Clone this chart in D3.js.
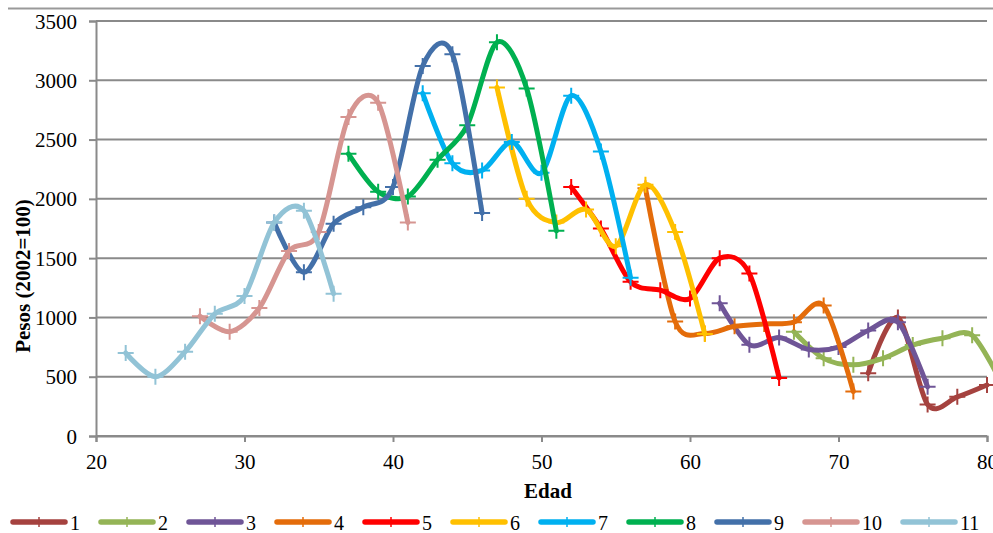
<!DOCTYPE html>
<html>
<head>
<meta charset="utf-8">
<script src="https://cdn.jsdelivr.net/npm/d3@7"></script>
<style>
  body { margin: 0; background: #fff; }
  svg { display: block; }
</style>
</head>
<body>
<svg id="chart" width="993" height="533"></svg>
<script>
// Ages (x) and weights (pesos, 2002=100) for each cohort series
const ages1 = [72, 74, 76, 78, 80];
const vals1 = [530, 1000, 265, 330, 430];
const ages2 = [67, 69, 71, 73, 75, 77, 79, 81];
const vals2 = [880, 655, 600, 655, 767, 824, 850, 440];
const ages3 = [62, 64, 66, 68, 70, 72, 74, 76];
const vals3 = [1120, 770, 830, 730, 750, 890, 960, 415];
const ages4 = [57, 59, 61, 63, 65, 67, 69, 71];
const vals4 = [2090, 965, 865, 925, 945, 960, 1100, 375];
const ages5 = [52, 54, 56, 58, 60, 62, 64, 66];
const vals5 = [2100, 1750, 1300, 1230, 1160, 1500, 1370, 490];
const ages6 = [47, 49, 51, 53, 55, 57, 59, 61];
const vals6 = [2940, 2000, 1800, 1910, 1600, 2120, 1720, 860];
const ages7 = [42, 44, 46, 48, 50, 52, 54, 56];
const vals7 = [2890, 2300, 2240, 2480, 2220, 2870, 2400, 1335];
const ages8 = [37, 39, 41, 43, 45, 47, 49, 51];
const vals8 = [2380, 2060, 2020, 2330, 2620, 3320, 2930, 1730];
const ages9 = [32, 34, 36, 38, 40, 42, 44, 46];
const vals9 = [1800, 1380, 1790, 1930, 2100, 3120, 3220, 1880];
const ages10 = [27, 29, 31, 33, 35, 37, 39, 41];
const vals10 = [1010, 880, 1080, 1560, 1720, 2690, 2810, 1800];
const ages11 = [22, 24, 26, 28, 30, 32, 34, 36];
const vals11 = [700, 500, 710, 1030, 1180, 1800, 1900, 1200];

const seriesNames = ["1", "2", "3", "4", "5", "6", "7", "8", "9", "10", "11"];
const seriesColors = ["#A5423F", "#94B456", "#6F5597", "#E46C0A", "#FF0000",
                      "#FFC000", "#00B0F0", "#00B050", "#4370A9", "#D69591", "#92C3D6"];
const xTicks = [20, 30, 40, 50, 60, 70, 80];
const yTicks = [0, 500, 1000, 1500, 2000, 2500, 3000, 3500];
const xTitle = "Edad";
const yTitle = "Pesos (2002=100)";

const allAges = [ages1, ages2, ages3, ages4, ages5, ages6, ages7, ages8, ages9, ages10, ages11];
const allVals = [vals1, vals2, vals3, vals4, vals5, vals6, vals7, vals8, vals9, vals10, vals11];
const series = seriesNames.map((name, i) => ({
  name, color: seriesColors[i],
  points: allAges[i].map((a, j) => ({ x: a, y: allVals[i][j] }))
}));

const FONT = '"Liberation Serif", "Times New Roman", serif';
const svg = d3.select("#chart");
const plotLeft = 96, plotRight = 987, plotTop = 21, plotBottom = 436;
const x = d3.scaleLinear().domain([20, 80]).range([plotLeft, plotRight]);
const y = d3.scaleLinear().domain([0, 3500]).range([plotBottom, plotTop]);
const gridColor = "#8a8a8a";

// outer frame edge
svg.append("line").attr("x1", 8).attr("x2", 993).attr("y1", 8.5).attr("y2", 8.5)
  .attr("stroke", "#999").attr("stroke-width", 2);

// horizontal gridlines
svg.append("g").selectAll("line").data(yTicks).join("line")
  .attr("x1", plotLeft).attr("x2", plotRight)
  .attr("y1", d => y(d)).attr("y2", d => y(d))
  .attr("stroke", gridColor).attr("stroke-width", 2);

// y axis
const yAxis = svg.append("g").attr("transform", `translate(${plotLeft},0)`)
  .call(d3.axisLeft(y).tickValues(yTicks).tickSize(7).tickPadding(12).tickFormat(d3.format("d")));
yAxis.select(".domain").attr("stroke", gridColor).attr("stroke-width", 2);
yAxis.selectAll(".tick line").attr("stroke", gridColor).attr("stroke-width", 2);
yAxis.selectAll(".tick text").attr("dy", "0.34em")
  .style("font-family", FONT).style("font-size", "21px").style("fill", "#000");

// x axis
const xAxis = svg.append("g").attr("transform", `translate(0,${plotBottom})`)
  .call(d3.axisBottom(x).tickValues(xTicks).tickSize(6).tickFormat(d3.format("d")));
xAxis.select(".domain").attr("stroke", gridColor).attr("stroke-width", 2);
xAxis.selectAll(".tick line").attr("stroke", gridColor).attr("stroke-width", 2);
xAxis.selectAll(".tick text").attr("y", 33).attr("dy", 0)
  .style("font-family", FONT).style("font-size", "21px").style("fill", "#000");

// axis titles
svg.append("text").attr("x", 548).attr("y", 498).attr("text-anchor", "middle")
  .style("font-family", FONT).style("font-size", "21px").style("font-weight", "bold").text(xTitle);
svg.append("text").attr("transform", "translate(30,276) rotate(-90)").attr("text-anchor", "middle")
  .style("font-family", FONT).style("font-size", "21px").style("font-weight", "bold").text(yTitle);

// smoothed series lines with plus markers
const line = d3.line().x(d => x(d.x)).y(d => y(d.y)).curve(d3.curveCardinal.tension(0.1));
const plus = "M-8,0H8M0,-8V8";
series.forEach(s => {
  const g = svg.append("g");
  g.append("path").attr("d", line(s.points)).attr("fill", "none")
    .attr("stroke", s.color).attr("stroke-width", 5)
    .attr("stroke-linecap", "round").attr("stroke-linejoin", "round");
  g.selectAll("path.m").data(s.points).join("path").attr("class", "m")
    .attr("d", plus).attr("transform", d => `translate(${x(d.x)},${y(d.y)})`)
    .attr("stroke", s.color).attr("stroke-width", 2).attr("fill", "none");
});

// legend
const legend = svg.append("g");
let lx = 11;
const ly = 522;
series.forEach(s => {
  const g = legend.append("g").attr("transform", `translate(${lx},${ly})`);
  g.append("line").attr("x1", 2).attr("x2", 54).attr("y1", 0).attr("y2", 0)
    .attr("stroke", s.color).attr("stroke-width", 5.5).attr("stroke-linecap", "round");
  g.append("path").attr("d", "M28,-5V5").attr("stroke", s.color).attr("stroke-width", 1.5);
  const t = g.append("text").attr("x", 59).attr("y", 8)
    .style("font-family", FONT).style("font-size", "20px").text(s.name);
  lx += 59 + t.node().getComputedTextLength() + 19;
});
</script>
</body>
</html>
